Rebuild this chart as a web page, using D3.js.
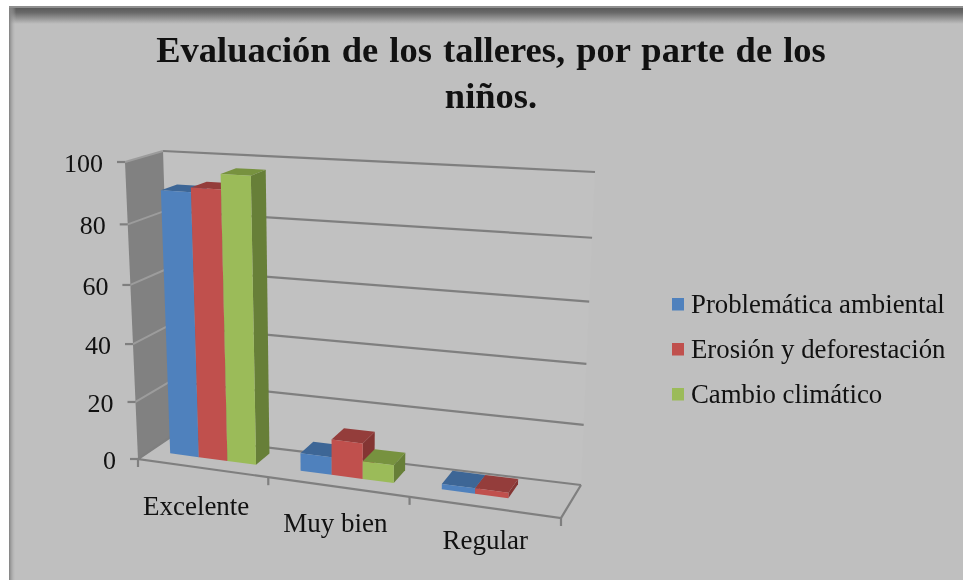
<!DOCTYPE html>
<html lang="es">
<head>
<meta charset="utf-8">
<title>Evaluación de los talleres</title>
<style>
html,body{margin:0;padding:0;background:#fff;}
svg{display:block;}
text{font-family:"Liberation Serif","Times New Roman",serif;fill:#111;}
</style>
<script src="https://cdn.jsdelivr.net/npm/d3@7/dist/d3.min.js"></script>
</head>
<body>
<div id="chart"></div>
<script>
const titleLines = ["Evaluación de los talleres, por parte de los", "niños."];
const categories = ["Excelente", "Muy bien", "Regular"];
const seriesNames = ["Problemática ambiental", "Erosión y deforestación", "Cambio climático"];
const problematica = [90, 6, 1.8];
const erosion = [91.5, 12, 1.8];
const cambio = [96.5, 6, 0];
const yTicks = [0, 20, 40, 60, 80, 100];
const frontColors = ["#4f81bd", "#c0504d", "#9bbb59"];
const topColors = ["#3d6696", "#943d3b", "#77923f"];
const sideColors = ["#355a85", "#843533", "#677f38"];

const width = 963, height = 580;
const svg = d3.select("#chart").append("svg").attr("width", width).attr("height", height);

// Box corners of the 3D plot on screen: [depth 0 = front, depth 1 = back]
const box = {
  flb: [138, 459], frb: [561, 518], brb: [581, 485], blb: [172, 436],
  flt: [125, 162], frt: [573, 192], brt: [595, 172], blt: [163, 151]
};
const lerp = (a, b, t) => [a[0] + (b[0] - a[0]) * t, a[1] + (b[1] - a[1]) * t];
// Foreshortened scales
const uScale = d3.scaleLinear().domain([0, 1, 2, 3]).range([0, 0.308, 0.642, 1]);
const hScale = d3.scaleLinear().domain(yTicks).range([0, 0.192, 0.387, 0.586, 0.79, 1]);
function P(cat, depth, val) {
  const u = uScale(cat), h = hScale(val);
  const bottom = lerp(lerp(box.flb, box.frb, u), lerp(box.blb, box.brb, u), depth);
  const top = lerp(lerp(box.flt, box.frt, u), lerp(box.blt, box.brt, u), depth);
  return lerp(bottom, top, h);
}
const line = d3.line();
const closed = pts => line(pts) + "Z";

const defs = svg.append("defs");
const gTop = defs.append("linearGradient").attr("id", "shTop").attr("x1", 0).attr("x2", 0).attr("y1", 0).attr("y2", 1);
gTop.append("stop").attr("offset", 0).attr("stop-color", "#5a5a5a");
gTop.append("stop").attr("offset", 0.3).attr("stop-color", "#6a6a6a");
gTop.append("stop").attr("offset", 1).attr("stop-color", "#bfbfbf");
const gLeft = defs.append("linearGradient").attr("id", "shLeft").attr("x1", 0).attr("x2", 1).attr("y1", 0).attr("y2", 0);
gLeft.append("stop").attr("offset", 0).attr("stop-color", "#808080").attr("stop-opacity", 1);
gLeft.append("stop").attr("offset", 1).attr("stop-color", "#bfbfbf").attr("stop-opacity", 0);

const root = svg.append("g").style("filter", "blur(0.6px)");
// Panel
root.append("rect").attr("x", 9).attr("y", 6).attr("width", width - 9).attr("height", height - 6).attr("fill", "#bfbfbf");
root.append("rect").attr("x", 9).attr("y", 6).attr("width", width - 9).attr("height", 2).attr("fill", "#8f8f8f");
root.append("rect").attr("x", 9).attr("y", 8).attr("width", width - 9).attr("height", 16).attr("fill", "url(#shTop)");
root.append("rect").attr("x", 9).attr("y", 8).attr("width", 7).attr("height", height - 8).attr("fill", "url(#shLeft)");

// Title
root.selectAll("text.title").data(titleLines).join("text").attr("class", "title")
  .attr("x", 491).attr("y", (d, i) => 62 + i * 46)
  .attr("text-anchor", "middle").attr("font-size", 36.5).attr("font-weight", "bold")
  .attr("word-spacing", 2).text(d => d);

// Back wall and left wall
root.append("path").attr("d", closed([P(0,1,0), P(3,1,0), P(3,1,100), P(0,1,100)])).attr("fill", "#c1c1c1");
root.append("path").attr("d", closed([P(0,0,0), P(0,1,0), P(0,1,100), P(0,0,100)])).attr("fill", "#818181");

// Gridlines
const gridColor = "#7f7f7f";
root.selectAll("path.grid").data(yTicks).join("path").attr("class", "grid")
  .attr("d", t => line([P(0,1,t), P(3,1,t)])).attr("fill", "none").attr("stroke", gridColor).attr("stroke-width", 2.2);
root.selectAll("path.wallgrid").data(yTicks.slice(1)).join("path").attr("class", "wallgrid")
  .attr("d", t => line([P(0,0,t), P(0,1,t)])).attr("fill", "none").attr("stroke", "#9c9c9c").attr("stroke-width", 2);

// Floor edges and axes
root.append("path").attr("d", line([P(0,1,0), P(0,0,0), P(3,0,0), P(3,1,0)])).attr("fill", "none").attr("stroke", gridColor).attr("stroke-width", 2.2);
root.selectAll("path.ytick").data(yTicks).join("path").attr("class", "ytick")
  .attr("d", t => { const p = P(0,0,t); return line([p, [p[0] - 8, p[1]]]); })
  .attr("stroke", gridColor).attr("stroke-width", 2.2);
root.selectAll("path.xtick").data([0, 1, 2, 3]).join("path").attr("class", "xtick")
  .attr("d", c => { const p = P(c,0,0); return line([p, [p[0], p[1] + 8]]); })
  .attr("stroke", gridColor).attr("stroke-width", 2.2);

// Tick labels
root.selectAll("text.ylab").data(yTicks).join("text").attr("class", "ylab")
  .attr("x", t => P(0,0,t)[0] - 22).attr("y", t => P(0,0,t)[1] + 10)
  .attr("text-anchor", "end").attr("font-size", 26).text(d => d);
root.selectAll("text.xlab").data(categories).join("text").attr("class", "xlab")
  .attr("x", (d, i) => P(i + 0.5, 0, 0)[0] + (i - 2) * 3.5)
  .attr("y", (d, i) => P(i + 0.5, 0, 0)[1] + 47 - i * 2.5)
  .attr("text-anchor", "middle").attr("font-size", 27).text(d => d);

// Bars
const seriesValues = [problematica, erosion, cambio];
const inner = d3.scaleBand().domain(d3.range(3)).range([0.155, 0.822]);
const front = 0.36, back = 0.8;
const bars = [];
categories.forEach((c, i) => seriesValues.forEach((vals, s) => {
  if (vals[i] > 0) bars.push({cat: i, s, v: vals[i]});
}));
const barG = root.selectAll("g.bar").data(bars).join("g").attr("class", "bar");
barG.append("path").attr("fill", d => sideColors[d.s]).attr("d", d => {
  const x1 = d.cat + inner(d.s) + inner.bandwidth();
  return closed([P(x1,front,0), P(x1,back,0), P(x1,back,d.v), P(x1,front,d.v)]);
});
barG.append("path").attr("fill", d => topColors[d.s]).attr("d", d => {
  const x0 = d.cat + inner(d.s), x1 = x0 + inner.bandwidth();
  return closed([P(x0,front,d.v), P(x1,front,d.v), P(x1,back,d.v), P(x0,back,d.v)]);
});
barG.append("path").attr("fill", d => frontColors[d.s]).attr("d", d => {
  const x0 = d.cat + inner(d.s), x1 = x0 + inner.bandwidth();
  return closed([P(x0,front,0), P(x1,front,0), P(x1,front,d.v), P(x0,front,d.v)]);
});

// Legend
const legendY = d3.scalePoint().domain(seriesNames).range([313, 403]);
const lg = root.selectAll("g.lg").data(seriesNames).join("g").attr("class", "lg");
lg.append("rect").attr("x", 672).attr("y", d => legendY(d) - 15).attr("width", 12).attr("height", 12.5)
  .attr("fill", (d, i) => frontColors[i]);
lg.append("text").attr("x", 691).attr("y", d => legendY(d)).attr("font-size", 26.8).text(d => d);
</script>
</body>
</html>
